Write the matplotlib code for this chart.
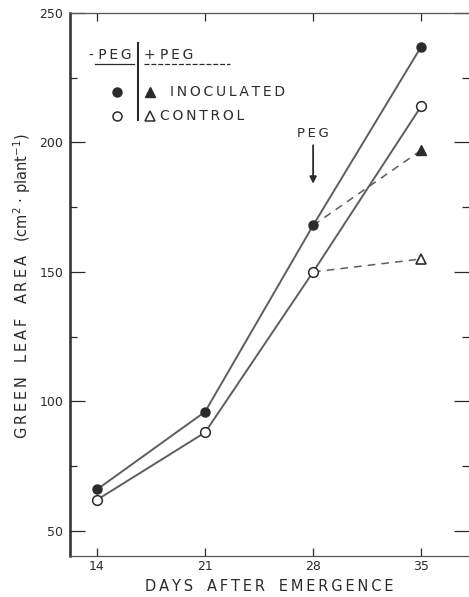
import numpy as np
import matplotlib.pyplot as plt
from matplotlib.lines import Line2D

# green leaf area, cm2 per plant
days = [14, 21, 28, 35]
inoculated = [66, 96, 168, 237]
control = [62, 88, 150, 214]
peg_days = [28, 35]
inoc_peg = [168, 197]
ctrl_peg = [150, 155]

ink = '#2b2b2b'
line_col = '#5e5e5e'


def spaced(s):
    # loose letter spacing like the typed original
    return '\u2009'.join(s)


fig = plt.figure(figsize=(4.69, 5.97), dpi=100)
ax = fig.add_axes([0.1493, 0.0687, 0.8507, 0.9095])

# solid lines, no PEG
ax.plot(days, inoculated, '-', color=line_col, lw=1.4, zorder=2)
ax.plot(days, control, '-', color=line_col, lw=1.4, zorder=2)
# dashed lines, + PEG
ax.plot(peg_days, inoc_peg, '--', color=line_col, lw=1.1, dashes=(5, 4), zorder=2)
ax.plot(peg_days, ctrl_peg, '--', color=line_col, lw=1.1, dashes=(5, 4), zorder=2)

ax.plot(days, inoculated, 'o', ms=6.5, mfc=ink, mec=ink, zorder=3)
ax.plot(days, control, 'o', ms=7, mfc='white', mec=ink, mew=1.1, zorder=3)
ax.plot(peg_days[1:], inoc_peg[1:], '^', ms=7.5, mfc=ink, mec=ink, zorder=3)
ax.plot(peg_days[1:], ctrl_peg[1:], '^', ms=7.5, mfc='white', mec=ink, mew=1.2, zorder=3)

# PEG arrow
ax.annotate('', xy=(peg_days[0], inoc_peg[0] + 15), xytext=(peg_days[0], inoc_peg[0] + 32),
            arrowprops=dict(arrowstyle='-|>', color=ink, lw=1.3, mutation_scale=10))
ax.text(peg_days[0], inoc_peg[0] + 33, spaced('PEG'), ha='center', va='bottom',
        fontsize=9.5, color=ink)

ax.set_xlim(12.25, 38.1)
ax.set_ylim(40.3, 250)
ax.set_xticks(days)
ax.set_yticks([50, 100, 150, 200, 250])
ax.set_yticks([75, 125, 175, 225], minor=True)
ax.tick_params(axis='y', which='major', direction='in', length=11, width=0.9,
               left=True, right=True, labelsize=9, colors=ink, pad=5)
ax.tick_params(axis='y', which='minor', direction='in', length=5, width=0.9,
               left=True, right=True, colors=ink)
ax.tick_params(axis='x', which='major', direction='in', length=6, width=0.9,
               top=True, bottom=True, labelsize=9, colors=ink, pad=3)

ax.spines['left'].set_linewidth(1.8)
ax.spines['left'].set_color(ink)
for s in ['top', 'bottom']:
    ax.spines[s].set_linewidth(0.9)
    ax.spines[s].set_color('#555555')
ax.spines['right'].set_visible(False)

ax.set_xlabel(spaced('DAYS') + '   ' + spaced('AFTER') + '   ' + spaced('EMERGENCE'),
              fontsize=10.5, color=ink, labelpad=4)
fig.text(0.047, 0.52,
         spaced('GREEN') + '   ' + spaced('LEAF') + '   ' + spaced('AREA') +
         '   (cm$^2$ · plant$^{-1}$)', rotation=90,
         ha='center', va='center', fontsize=10.5, color=ink)

# hand-drawn style key
tr = ax.transAxes
ax.text(0.100, 0.923, '- ' + spaced('PEG'), transform=tr, ha='center', va='center',
        fontsize=10, color=ink)
ax.text(0.185, 0.923, '+ ' + spaced('PEG'), transform=tr, ha='left', va='center',
        fontsize=10, color=ink)
ax.add_line(Line2D([0.063, 0.160], [0.906, 0.906], transform=tr, color=ink, lw=0.9))
ax.add_line(Line2D([0.186, 0.401], [0.906, 0.906], transform=tr, color=ink, lw=0.9,
                   ls='--', dashes=(4, 1.5)))
ax.add_line(Line2D([0.170, 0.170], [0.945, 0.803], transform=tr, color=ink, lw=1.5))
ax.plot([0.118], [0.855], 'o', transform=tr, ms=6.5, color=ink)
ax.plot([0.118], [0.810], 'o', transform=tr, ms=6.5, mfc='white', mec=ink, mew=1.1)
ax.plot([0.200], [0.855], '^', transform=tr, ms=6.5, color=ink)
ax.plot([0.200], [0.810], '^', transform=tr, ms=6.5, mfc='white', mec=ink, mew=1.1)
ax.text(0.251, 0.855, spaced('INOCULATED'), transform=tr, ha='left', va='center',
        fontsize=10, color=ink)
ax.text(0.226, 0.810, spaced('CONTROL'), transform=tr, ha='left', va='center',
        fontsize=10, color=ink)

fig.savefig('out.png', dpi=100)
